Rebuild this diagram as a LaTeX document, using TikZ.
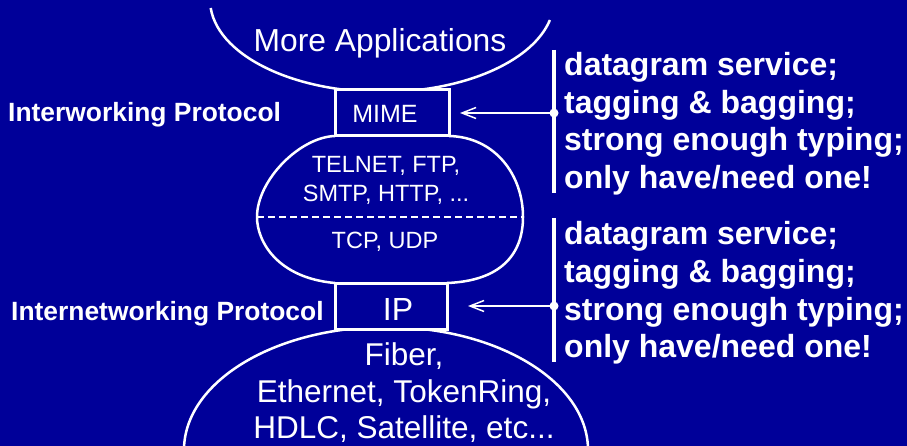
\documentclass[tikz,border=0pt]{standalone}
\usepackage{fontspec}
\setmainfont{Liberation Sans}
\usetikzlibrary{arrows.meta}
\definecolor{bgblue}{RGB}{0,0,153}
\begin{document}
\begin{tikzpicture}[x=1pt,y=-1pt,
  curve/.style={draw=white,line width=2.5pt},
  boxst/.style={draw=white,fill=bgblue,line width=3pt,inner sep=0pt,outer sep=0pt,rectangle},
  txt/.style={text=white,inner sep=0pt,anchor=base},
  lbl/.style={text=white,inner sep=0pt,anchor=base west,font=\bfseries\fontsize{26.4}{30}\selectfont},
  side/.style={text=white,inner sep=0pt,anchor=base west,font=\bfseries\fontsize{32}{37.5}\selectfont},
  arr/.style={draw=white,line width=1.5pt,-{Straight Barb[length=14pt,width=11pt,line width=1.5pt]}},
  barst/.style={draw=white,line width=4pt},
]
\useasboundingbox (0,0) rectangle (907,446);
\clip (0,0) rectangle (907,446);
\fill[bgblue] (0,0) rectangle (907,446);

% top arc (More Applications)
\draw[curve] (210.7,8) arc[start angle=185,end angle=347.4,x radius=172pt,y radius=92pt];
% bottom ellipse (physical networks)
\draw[curve] (386,450) ellipse [x radius=202pt,y radius=123pt];

% boxes
\node[boxst,minimum width=114pt,minimum height=46pt] (mime) at (392,113) {};
\node[boxst,minimum width=112pt,minimum height=46pt] (ip) at (391,306) {};

% middle blob
\coordinate (bl) at (257,217);
\coordinate (br) at (523,217);
\draw[curve] (mime.south west) .. controls (300,137) and (257,180) .. (bl)
  .. controls (257,242) and (278,278) .. (ip.north west);
\draw[curve] (mime.south east) .. controls (495,137) and (523,175) .. (br)
  .. controls (523,255) and (500,281) .. (ip.north east);
\draw[draw=white,line width=2pt,dash pattern=on 7pt off 4pt] (bl) -- (br);

% texts in diagram
\node[txt,font=\fontsize{31.8}{38}\selectfont] (apps) at (380,52) {More Applications};
\node[txt,font=\fontsize{25}{30}\selectfont] (mimet) at (385,123) {MIME};
\node[txt,font=\fontsize{23.5}{29}\selectfont] (telnet) at (386,172.5) {TELNET, FTP,};
\node[txt,font=\fontsize{23.5}{29}\selectfont] (smtp) at (386,201.5) {SMTP, HTTP, ...};
\node[txt,font=\fontsize{23.5}{29}\selectfont] (tcp) at (385,249) {TCP, UDP};
\node[txt,font=\fontsize{32}{38}\selectfont] (ipt) at (398,320) {IP};
\node[txt,font=\fontsize{31.5}{38}\selectfont] (fiber) at (404,365) {Fiber,};
\node[txt,font=\fontsize{31.5}{38}\selectfont] (ether) at (404,402) {Ethernet, TokenRing,};
\node[txt,font=\fontsize{31.5}{38}\selectfont] (hdlc) at (404,438) {HDLC, Satellite, etc...};

% left labels
\node[lbl] (interw) at (8,122) {Interworking Protocol};
\node[lbl] (internetw) at (11,320) {Internetworking Protocol};

% right bars, dots, arrows
\coordinate (b1t) at (554,50);
\coordinate (b1b) at (554,193);
\coordinate (b2t) at (554,218);
\coordinate (b2b) at (554,362);
\coordinate (d1) at (554,113);
\coordinate (d2) at (554,306);
\draw[barst] (b1t) -- (b1b);
\draw[barst] (b2t) -- (b2b);
\fill[white] (d1) circle[radius=4.5pt];
\fill[white] (d2) circle[radius=4.5pt];
\draw[arr] (d1) -- ([xshift=11pt]mime.east);
\draw[arr] (d2) -- ([xshift=21pt]ip.east);

% right texts
\node[side] (s1a) at (564,76) {datagram service;};
\node[side] (s1b) at (564,113.5) {tagging \& bagging;};
\node[side] (s1c) at (564,151) {strong enough typing;};
\node[side] (s1d) at (564,188.5) {only have/need one!};
\node[side] (s2a) at (564,245) {datagram service;};
\node[side] (s2b) at (564,282.5) {tagging \& bagging;};
\node[side] (s2c) at (564,320) {strong enough typing;};
\node[side] (s2d) at (564,357.5) {only have/need one!};
\end{tikzpicture}
\end{document}
